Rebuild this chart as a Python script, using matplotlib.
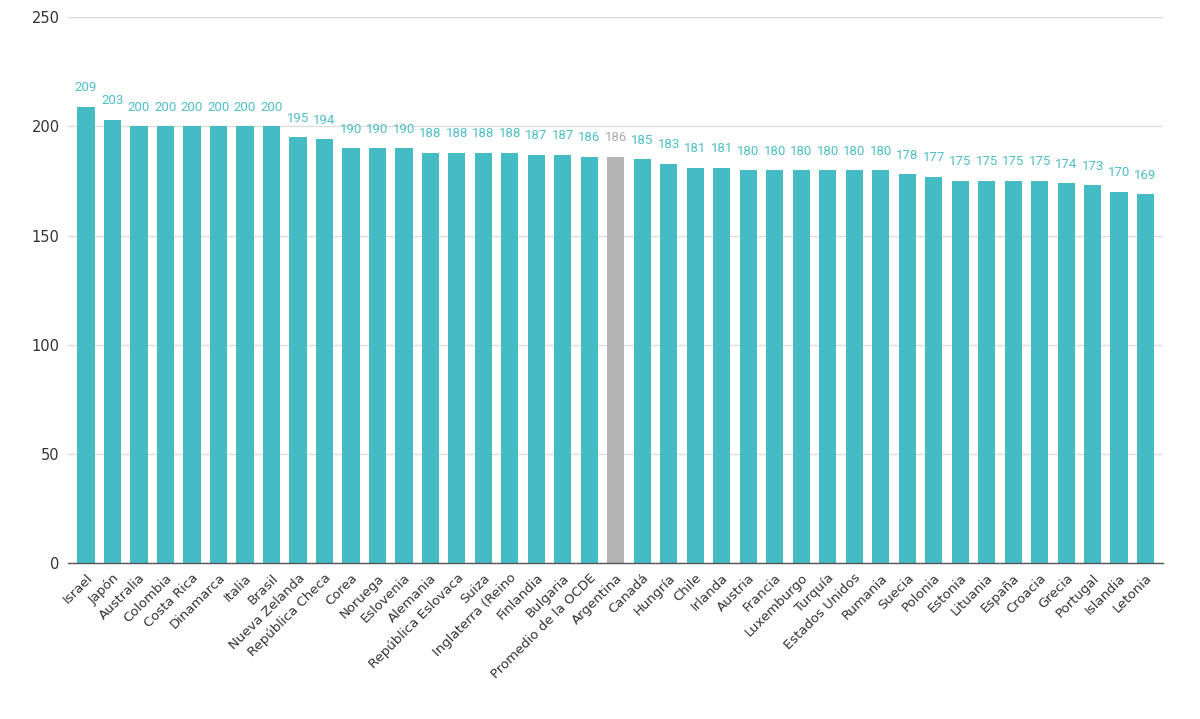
import matplotlib
matplotlib.use("Agg")
import matplotlib.pyplot as plt

countries = ["Israel", "Japón", "Australia", "Colombia", "Costa Rica", "Dinamarca", "Italia", "Brasil",
             "Nueva Zelanda", "República Checa", "Corea", "Noruega", "Eslovenia", "Alemania",
             "República Eslovaca", "Suiza", "Inglaterra (Reino", "Finlandia", "Bulgaria",
             "Promedio de la OCDE", "Argentina", "Canadá", "Hungría", "Chile", "Irlanda", "Austria",
             "Francia", "Luxemburgo", "Turquía", "Estados Unidos", "Rumania", "Suecia", "Polonia",
             "Estonia", "Lituania", "España", "Croacia", "Grecia", "Portugal", "Islandia", "Letonia"]
values = [209, 203, 200, 200, 200, 200, 200, 200, 195, 194, 190, 190, 190, 188, 188, 188, 188,
          187, 187, 186, 186, 185, 183, 181, 181, 180, 180, 180, 180, 180, 180, 178, 177,
          175, 175, 175, 175, 174, 173, 170, 169]
highlight = "Argentina"
yticks = [0, 50, 100, 150, 200, 250]

teal = "#45BCC5"
gray = "#B4B4B4"

fig = plt.figure(figsize=(12, 7.19), dpi=100)
ax = fig.add_axes([0.0567, 0.217, 0.9123, 0.759])

x = list(range(len(countries)))
colors = [gray if c == highlight else teal for c in countries]
bars = ax.bar(x, values, width=0.65, color=colors, zorder=3)

for xi, v, c in zip(x, values, countries):
    col = "#AAAAAA" if c == highlight else "#4FBEC6"
    ax.annotate(str(v), (xi, v), xytext=(0, 9), textcoords="offset points",
                ha="center", va="bottom", fontsize=9.5, color=col, family="Roboto")

ax.set_xlim(-0.68, len(countries) - 0.35)
ax.set_ylim(0, 250)
ax.set_yticks(yticks)
ax.set_yticklabels([str(t) for t in yticks], fontsize=10.5, color="#333333")
ax.set_xticks(x)
ax.set_xticklabels(countries, rotation=45, ha="right", rotation_mode="anchor",
                   fontsize=9.5, color="#333333")
ax.tick_params(axis="both", length=0)
ax.tick_params(axis="y", pad=6)
ax.tick_params(axis="x", pad=6)
ax.grid(axis="y", color="#DDDDDD", linewidth=1, zorder=0)
for s in ["top", "right", "left"]:
    ax.spines[s].set_visible(False)
ax.spines["bottom"].set_color("#555555")
ax.spines["bottom"].set_linewidth(1)
ax.spines["bottom"].set_zorder(4)

fig.savefig("out.png", dpi=100, facecolor="white")
